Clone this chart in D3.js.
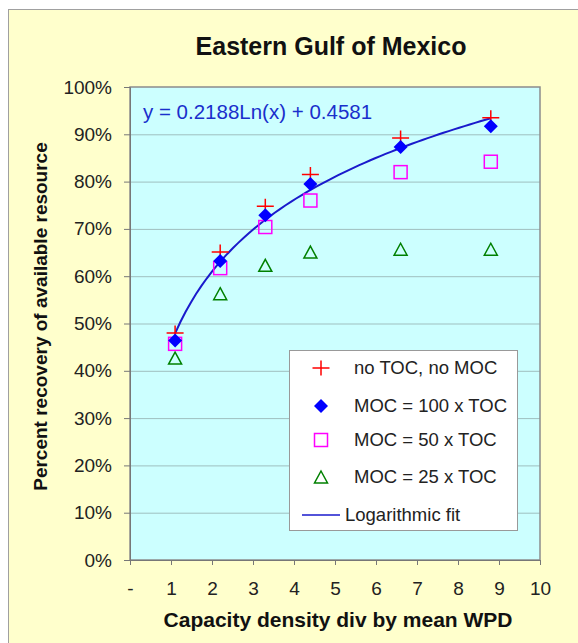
<!DOCTYPE html>
<meta charset="utf-8">
<style>
body { margin: 0; background: #fff; }
text { font-family: Arial, "Liberation Sans", sans-serif; }
</style>
<body>
<script src="https://d3js.org/d3.v7.min.js"></script>
<script>

var w = 578;
var h = 643;

// data
var xValues = [1.1, 2.2, 3.3, 4.4, 6.6, 8.8];
var noTocNoMoc = [0.48, 0.651, 0.748, 0.815, 0.892, 0.935];
var moc100 = [0.464, 0.632, 0.729, 0.795, 0.873, 0.917];
var moc50 = [0.457, 0.617, 0.704, 0.760, 0.820, 0.842];
var moc25 = [0.427, 0.563, 0.623, 0.651, 0.657, 0.657];
var fitA = 0.2188, fitB = 0.4581;
var xTicks = [0, 1, 2, 3, 4, 5, 6, 7, 8, 9, 10];
var yTicks = [0, 0.1, 0.2, 0.3, 0.4, 0.5, 0.6, 0.7, 0.8, 0.9, 1];

var margin = {top: 87, right: 38, bottom: 83, left: 130},
    width = w - margin.left - margin.right,
    height = h - margin.top - margin.bottom;

var svg = d3.select("body")
    .append("svg")
    .attr("width", w)
    .attr("height", h);

// chart area
svg.append("rect")
    .attr("x", 8.5).attr("y", 9.5)
    .attr("width", w).attr("height", h)
    .attr("fill", "#ffffcc")
    .attr("stroke", "#a0a0a0");

svg.append("text")
    .attr("x", 331).attr("y", 55)
    .attr("text-anchor", "middle")
    .attr("font-size", "25px")
    .attr("font-weight", "bold")
    .attr("fill", "#111")
    .text("Eastern Gulf of Mexico");

var g = svg.append("g")
    .attr("transform", "translate(" + margin.left + "," + margin.top + ")");

var x = d3.scaleLinear().domain([0, 10]).range([0, width]);
var y = d3.scaleLinear().domain([0, 1]).range([height, 0]);

g.append("rect")
    .attr("width", width).attr("height", height)
    .attr("fill", "#ccffff");

// gridlines
g.selectAll(".grid")
    .data(yTicks.slice(1, -1))
    .enter().append("line")
    .attr("x1", 0).attr("x2", width)
    .attr("y1", function(d) { return y(d) + 0.5; })
    .attr("y2", function(d) { return y(d) + 0.5; })
    .attr("stroke", "#9fbfbf")
    .attr("stroke-width", 1);

g.append("rect")
    .attr("width", width).attr("height", height)
    .attr("fill", "none")
    .attr("stroke", "#8c8c8c")
    .attr("stroke-width", 1.5);

var xAxis = d3.axisBottom(x)
    .tickValues(xTicks)
    .tickSize(5)
    .tickFormat(function(d) { return d === 0 ? "-" : d; });

var yAxis = d3.axisLeft(y)
    .tickValues(yTicks)
    .tickSize(6)
    .tickFormat(d3.format(".0%"));

var gx = g.append("g")
    .attr("transform", "translate(0," + height + ")")
    .call(xAxis);
gx.select(".domain").attr("stroke", "#777");
gx.selectAll(".tick line").attr("stroke", "#777");
gx.selectAll("text")
    .attr("font-size", "19px")
    .attr("fill", "#222")
    .attr("y", 22)
    .attr("dy", "0.71em");

var gy = g.append("g").call(yAxis);
gy.select(".domain").attr("stroke", "#777");
gy.selectAll(".tick line").attr("stroke", "#777");
gy.selectAll("text")
    .attr("font-size", "19px")
    .attr("fill", "#222")
    .attr("x", -18);

svg.append("text")
    .attr("transform", "translate(47," + (margin.top + height / 2 - 7) + ") rotate(-90)")
    .attr("text-anchor", "middle")
    .attr("font-size", "19px")
    .attr("font-weight", "bold")
    .attr("fill", "#111")
    .text("Percent recovery of available resource");

svg.append("text")
    .attr("x", 338).attr("y", 627)
    .attr("text-anchor", "middle")
    .attr("font-size", "21px")
    .attr("font-weight", "bold")
    .attr("fill", "#111")
    .text("Capacity density div by mean WPD");

// logarithmic fit line
var fitX = d3.range(0, 61).map(function(i) {
    return xValues[0] + (xValues[xValues.length - 1] - xValues[0]) * i / 60;
});
var line = d3.line()
    .x(function(d) { return x(d); })
    .y(function(d) { return y(fitA * Math.log(d) + fitB); });

g.append("path")
    .datum(fitX)
    .attr("d", line)
    .attr("fill", "none")
    .attr("stroke", "#1a1acc")
    .attr("stroke-width", 2);

g.append("text")
    .attr("x", 13).attr("y", 32)
    .attr("font-size", "20.5px")
    .attr("fill", "#1a2fcc")
    .text("y = 0.2188Ln(x) + 0.4581");

// markers
function drawMarker(sel, type) {
    if (type === "cross") {
        sel.append("path")
            .attr("d", "M-8.5,0H8.5M0,-7.5V7.5")
            .attr("stroke", "#ff0000")
            .attr("stroke-width", 1.5)
            .attr("fill", "none");
    } else if (type === "diamond") {
        sel.append("path")
            .attr("d", "M0,-7L7,0L0,7L-7,0Z")
            .attr("fill", "#0000ff");
    } else if (type === "square") {
        sel.append("rect")
            .attr("x", -6.5).attr("y", -6.5)
            .attr("width", 13).attr("height", 13)
            .attr("fill", "none")
            .attr("stroke", "#ff00ff")
            .attr("stroke-width", 1.5);
    } else {
        sel.append("path")
            .attr("d", "M0,-6L6.5,6H-6.5Z")
            .attr("fill", "none")
            .attr("stroke", "#008000")
            .attr("stroke-width", 1.5);
    }
}

var series = [
    {name: "MOC = 25 x TOC", values: moc25, type: "triangle"},
    {name: "MOC = 50 x TOC", values: moc50, type: "square"},
    {name: "no TOC, no MOC", values: noTocNoMoc, type: "cross"},
    {name: "MOC = 100 x TOC", values: moc100, type: "diamond"}
];

series.forEach(function(s) {
    g.selectAll(null)
        .data(s.values)
        .enter().append("g")
        .attr("transform", function(d, i) {
            return "translate(" + x(xValues[i]) + "," + y(d) + ")";
        })
        .each(function() { drawMarker(d3.select(this), s.type); });
});

// legend
var legend = svg.append("g").attr("transform", "translate(289,350)");
legend.append("rect")
    .attr("x", 0.5).attr("y", 0.5)
    .attr("width", 228).attr("height", 180)
    .attr("fill", "#fff")
    .attr("stroke", "#999");

var legendItems = [
    {name: "no TOC, no MOC", type: "cross", y: 18},
    {name: "MOC = 100 x TOC", type: "diamond", y: 56},
    {name: "MOC = 50 x TOC", type: "square", y: 90},
    {name: "MOC = 25 x TOC", type: "triangle", y: 127}
];
legendItems.forEach(function(d) {
    var it = legend.append("g").attr("transform", "translate(32," + d.y + ")");
    drawMarker(it, d.type);
    legend.append("text")
        .attr("x", 65).attr("y", d.y + 6)
        .attr("font-size", "18.5px")
        .attr("fill", "#222")
        .text(d.name);
});
legend.append("line")
    .attr("x1", 13).attr("x2", 51)
    .attr("y1", 165).attr("y2", 165)
    .attr("stroke", "#1a1acc")
    .attr("stroke-width", 1.5);
legend.append("text")
    .attr("x", 56).attr("y", 171)
    .attr("font-size", "18.5px")
    .attr("fill", "#222")
    .text("Logarithmic fit");

</script>
</body>
